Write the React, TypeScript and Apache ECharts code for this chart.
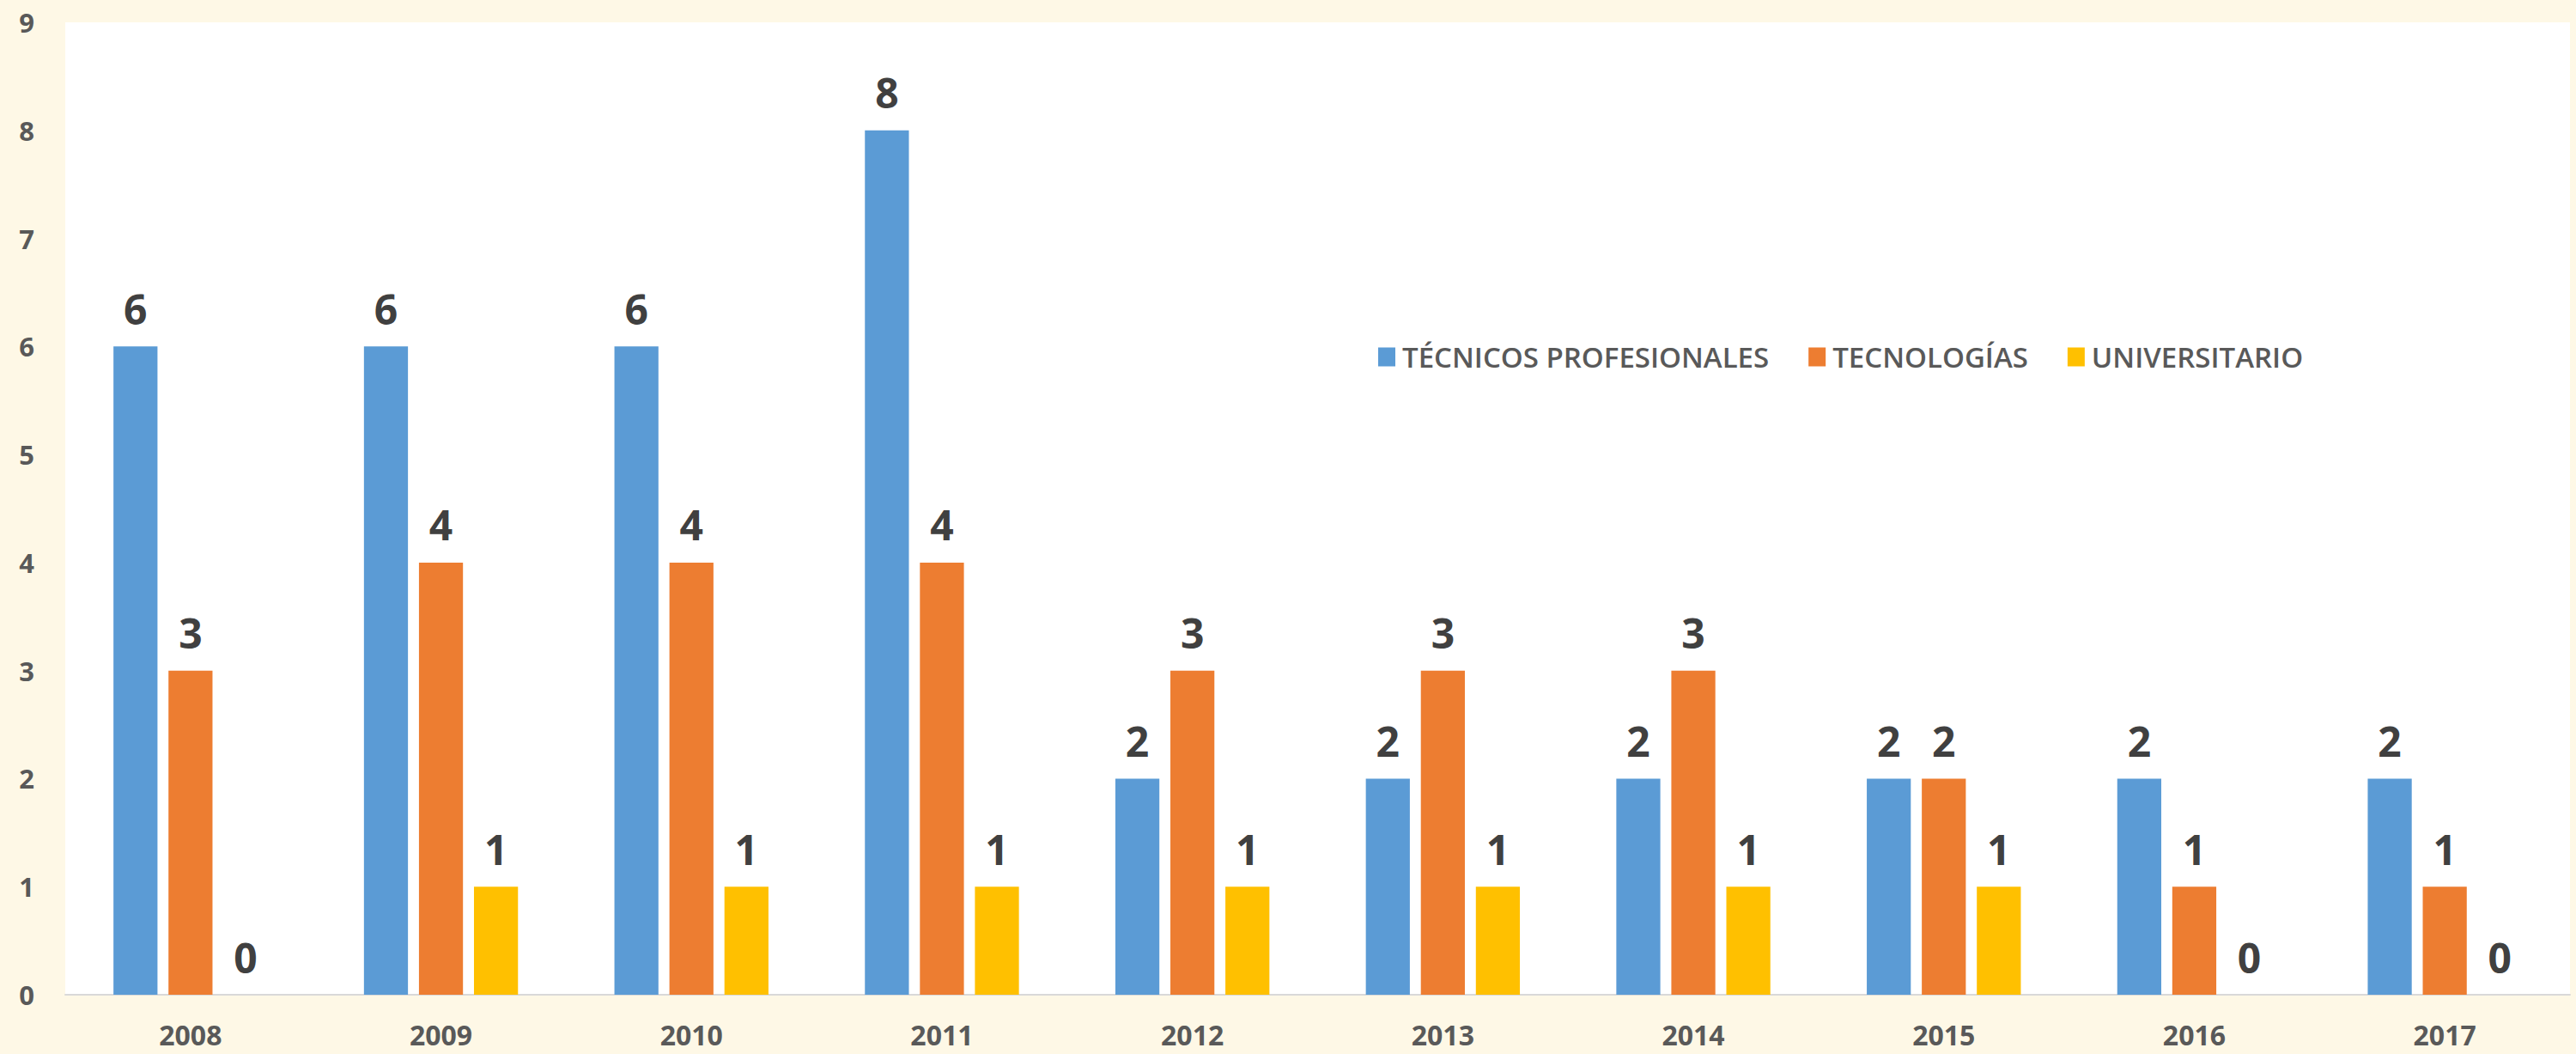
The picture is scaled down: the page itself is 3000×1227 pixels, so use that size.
import React, { useEffect, useRef } from "react";
import * as echarts from "echarts";

const years = ["2008", "2009", "2010", "2011", "2012", "2013", "2014", "2015", "2016", "2017"];
const tecnicos = [6, 6, 6, 8, 2, 2, 2, 2, 2, 2];
const tecnologias = [3, 4, 4, 4, 3, 3, 3, 2, 1, 1];
const universitario = [0, 1, 1, 1, 1, 1, 1, 1, 0, 0];
const seriesNames = ["TÉCNICOS PROFESIONALES", "TECNOLOGÍAS", "UNIVERSITARIO"];
const colors = ["#5B9BD5", "#ED7D31", "#FFC000"];

export default function App() {
  const ref = useRef<HTMLDivElement>(null);
  useEffect(() => {
    document.body.style.margin = "0";
    const chart = echarts.init(ref.current!, null, { renderer: "svg" });
    const font = "'Open Sans', 'Liberation Sans', sans-serif";
    const label = {
      show: true,
      position: "top",
      distance: 20,
      fontFamily: font,
      fontWeight: "bold",
      fontSize: 48,
      color: "#404040",
    };
    const data = [tecnicos, tecnologias, universitario];
    chart.setOption({
      animation: false,
      backgroundColor: "#FEF8E6",
      grid: {
        left: 76,
        right: 7,
        top: 26,
        bottom: 69,
        show: true,
        backgroundColor: "#FFFFFF",
        borderWidth: 0,
      },
      legend: {
        left: 1600,
        top: 394,
        itemWidth: 20,
        itemHeight: 22,
        itemGap: 46,
        icon: "rect",
        textStyle: {
          fontFamily: font,
          fontSize: 33,
          fontWeight: 600,
          color: "#595959",
          padding: [0, 0, 0, 3],
        },
        data: seriesNames,
      },
      xAxis: {
        type: "category",
        data: years,
        axisLine: { show: true, lineStyle: { color: "#D9D9D9", width: 2 } },
        axisTick: { show: false },
        axisLabel: {
          margin: 30,
          fontFamily: font,
          fontWeight: "bold",
          fontSize: 32,
          color: "#595959",
        },
      },
      yAxis: {
        type: "value",
        min: 0,
        max: 9,
        interval: 1,
        axisLine: { show: false },
        axisTick: { show: false },
        splitLine: { show: false },
        axisLabel: {
          margin: 36,
          fontFamily: font,
          fontWeight: "bold",
          fontSize: 31,
          color: "#595959",
        },
      },
      series: seriesNames.map((name, i) => ({
        name,
        type: "bar",
        data: data[i],
        itemStyle: { color: colors[i] },
        barGap: "25%",
        barCategoryGap: "38.5%",
        label,
      })),
    });
    return () => chart.dispose();
  }, []);
  return <div ref={ref} style={{ width: 3000, height: 1227 }} />;
}
